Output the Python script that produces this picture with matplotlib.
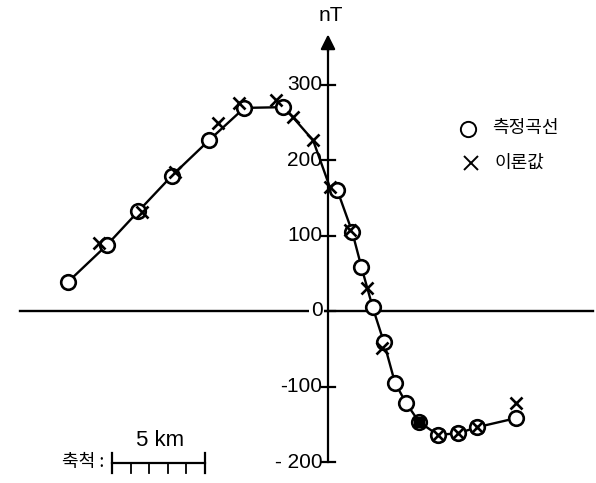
import matplotlib
matplotlib.use("Agg")
import matplotlib.pyplot as plt
import numpy as np

# ---- data (km along profile, nT) ----
measured_km = [-14.0, -11.9, -10.2, -8.4, -6.4, -4.5, -2.4, 0.5, 1.3, 1.8, 2.4, 3.0, 3.6, 4.2, 4.9, 5.9, 7.0, 8.0, 10.1]
measured_nT = [38, 87, 132, 179, 226, 269, 270, 160, 105, 58, 5, -41, -95, -122, -147, -164, -162, -154, -142]
theory_km = [-12.3, -10.0, -8.2, -5.9, -4.8, -2.8, -1.9, -0.8, 0.1, 1.2, 2.1, 2.9, 5.9, 7.0, 8.0, 10.1]
theory_nT = [90, 131, 184, 249, 275, 279, 257, 226, 164, 107, 30, -49, -164, -162, -154, -122]
ytick_values = [300, 200, 100, 0, -100, -200]
ytick_labels = ["300", "200", "100", "0", "-100", "- 200"]
legend_labels = ["측정곡선", "이론값"]
scale_label = "5 km"
scale_prefix = "축척 :"
unit_label = "nT"
filled_point_km = 4.9

W, H = 596, 483
fig = plt.figure(figsize=(W / 100, H / 100), dpi=100)
ax = fig.add_axes([0, 0, 1, 1])
PX_PER_KM = 18.6
PX_PER_NT = 0.755
X0, Y0 = 328, 311
ax.set_xlim(-X0 / PX_PER_KM, (W - X0) / PX_PER_KM)
ax.set_ylim((Y0 - H) / PX_PER_NT, Y0 / PX_PER_NT)
ax.axis("off")

def P(px, py):
    """pixel -> figure fraction (for layout of annotations)"""
    return px / W, 1 - py / H

num_font = ["Liberation Sans", "DejaVu Sans"]
kr_font = ["Noto Sans CJK KR", "DejaVu Sans"]

# horizontal zero line and vertical axis
ax.plot(ax.get_xlim()[0] + np.array([20, 593]) / PX_PER_KM, [0, 0], color="black", lw=1.7, zorder=1)
ax.plot([0, 0], [-200, 350], color="black", lw=1.6, zorder=1)
ax.annotate("", xy=(0, 370), xytext=(0, 340),
            arrowprops=dict(arrowstyle="-|>", mutation_scale=22, color="black", lw=1.6))
ax.text(0.15, 391, unit_label, ha="center", va="center", fontsize=15, family=num_font)

# ticks
for v, lab in zip(ytick_values, ytick_labels):
    ax.plot([-0.3, 0.4], [v, v], color="black", lw=1.6, zorder=1)
    ax.text(-0.3, v, lab, ha="right", va="center", fontsize=15, family=num_font,
            bbox=dict(facecolor="white", edgecolor="none", pad=1) if v == 0 else None, zorder=3)

# line through measured values (with theoretical points filling the peak gap)
lk = list(measured_km)
ln = list(measured_nT)
for k, n in zip(theory_km, theory_nT):
    if measured_km[6] < k < measured_km[7]:
        lk.append(k)
        ln.append(n)
order = np.argsort(lk)
ax.plot(np.array(lk)[order], np.array(ln)[order], color="black", lw=1.7, zorder=2)

# markers
ax.plot(measured_km, measured_nT, "o", ms=10.5, mfc="white", mec="black", mew=1.9, zorder=4)
fi = measured_km.index(filled_point_km)
ax.plot([measured_km[fi]], [measured_nT[fi]], "s", ms=7.5, mfc="black", mec="black", zorder=5)
ax.plot(theory_km, theory_nT, "x", ms=9, mec="black", mew=1.9, zorder=5)

# legend
lx1, ly1 = P(468, 129)
lx2, ly2 = P(471, 163)
fig.lines.append(plt.Line2D([lx1], [ly1], marker="o", ms=11, mfc="white", mec="black", mew=1.4, transform=fig.transFigure))
fig.lines.append(plt.Line2D([lx2], [ly2], marker="x", ms=10, mec="black", mew=1.4, transform=fig.transFigure))
fig.text(*P(492, 128), legend_labels[0], ha="left", va="center", fontsize=13, family=kr_font)
fig.text(*P(494, 163), legend_labels[1], ha="left", va="center", fontsize=13, family=kr_font)

# scale bar (5 km)
sb_x0 = (112 - X0) / PX_PER_KM
sb_y = (Y0 - 463) / PX_PER_NT
tick = 10 / PX_PER_NT
ax.plot([sb_x0, sb_x0 + 5], [sb_y, sb_y], color="black", lw=1.6)
for e in [sb_x0, sb_x0 + 5]:
    ax.plot([e, e], [sb_y - tick, sb_y + tick], color="black", lw=1.6)
for i in range(1, 5):
    ax.plot([sb_x0 + i, sb_x0 + i], [sb_y, sb_y - tick], color="black", lw=1.3)
ax.text(sb_x0 + 2.6, sb_y + 23 / PX_PER_NT, scale_label, ha="center", va="center", fontsize=16, family=num_font)
fig.text(*P(104, 462), scale_prefix, ha="right", va="center", fontsize=13, family=kr_font)

fig.savefig("out.png", dpi=100)
